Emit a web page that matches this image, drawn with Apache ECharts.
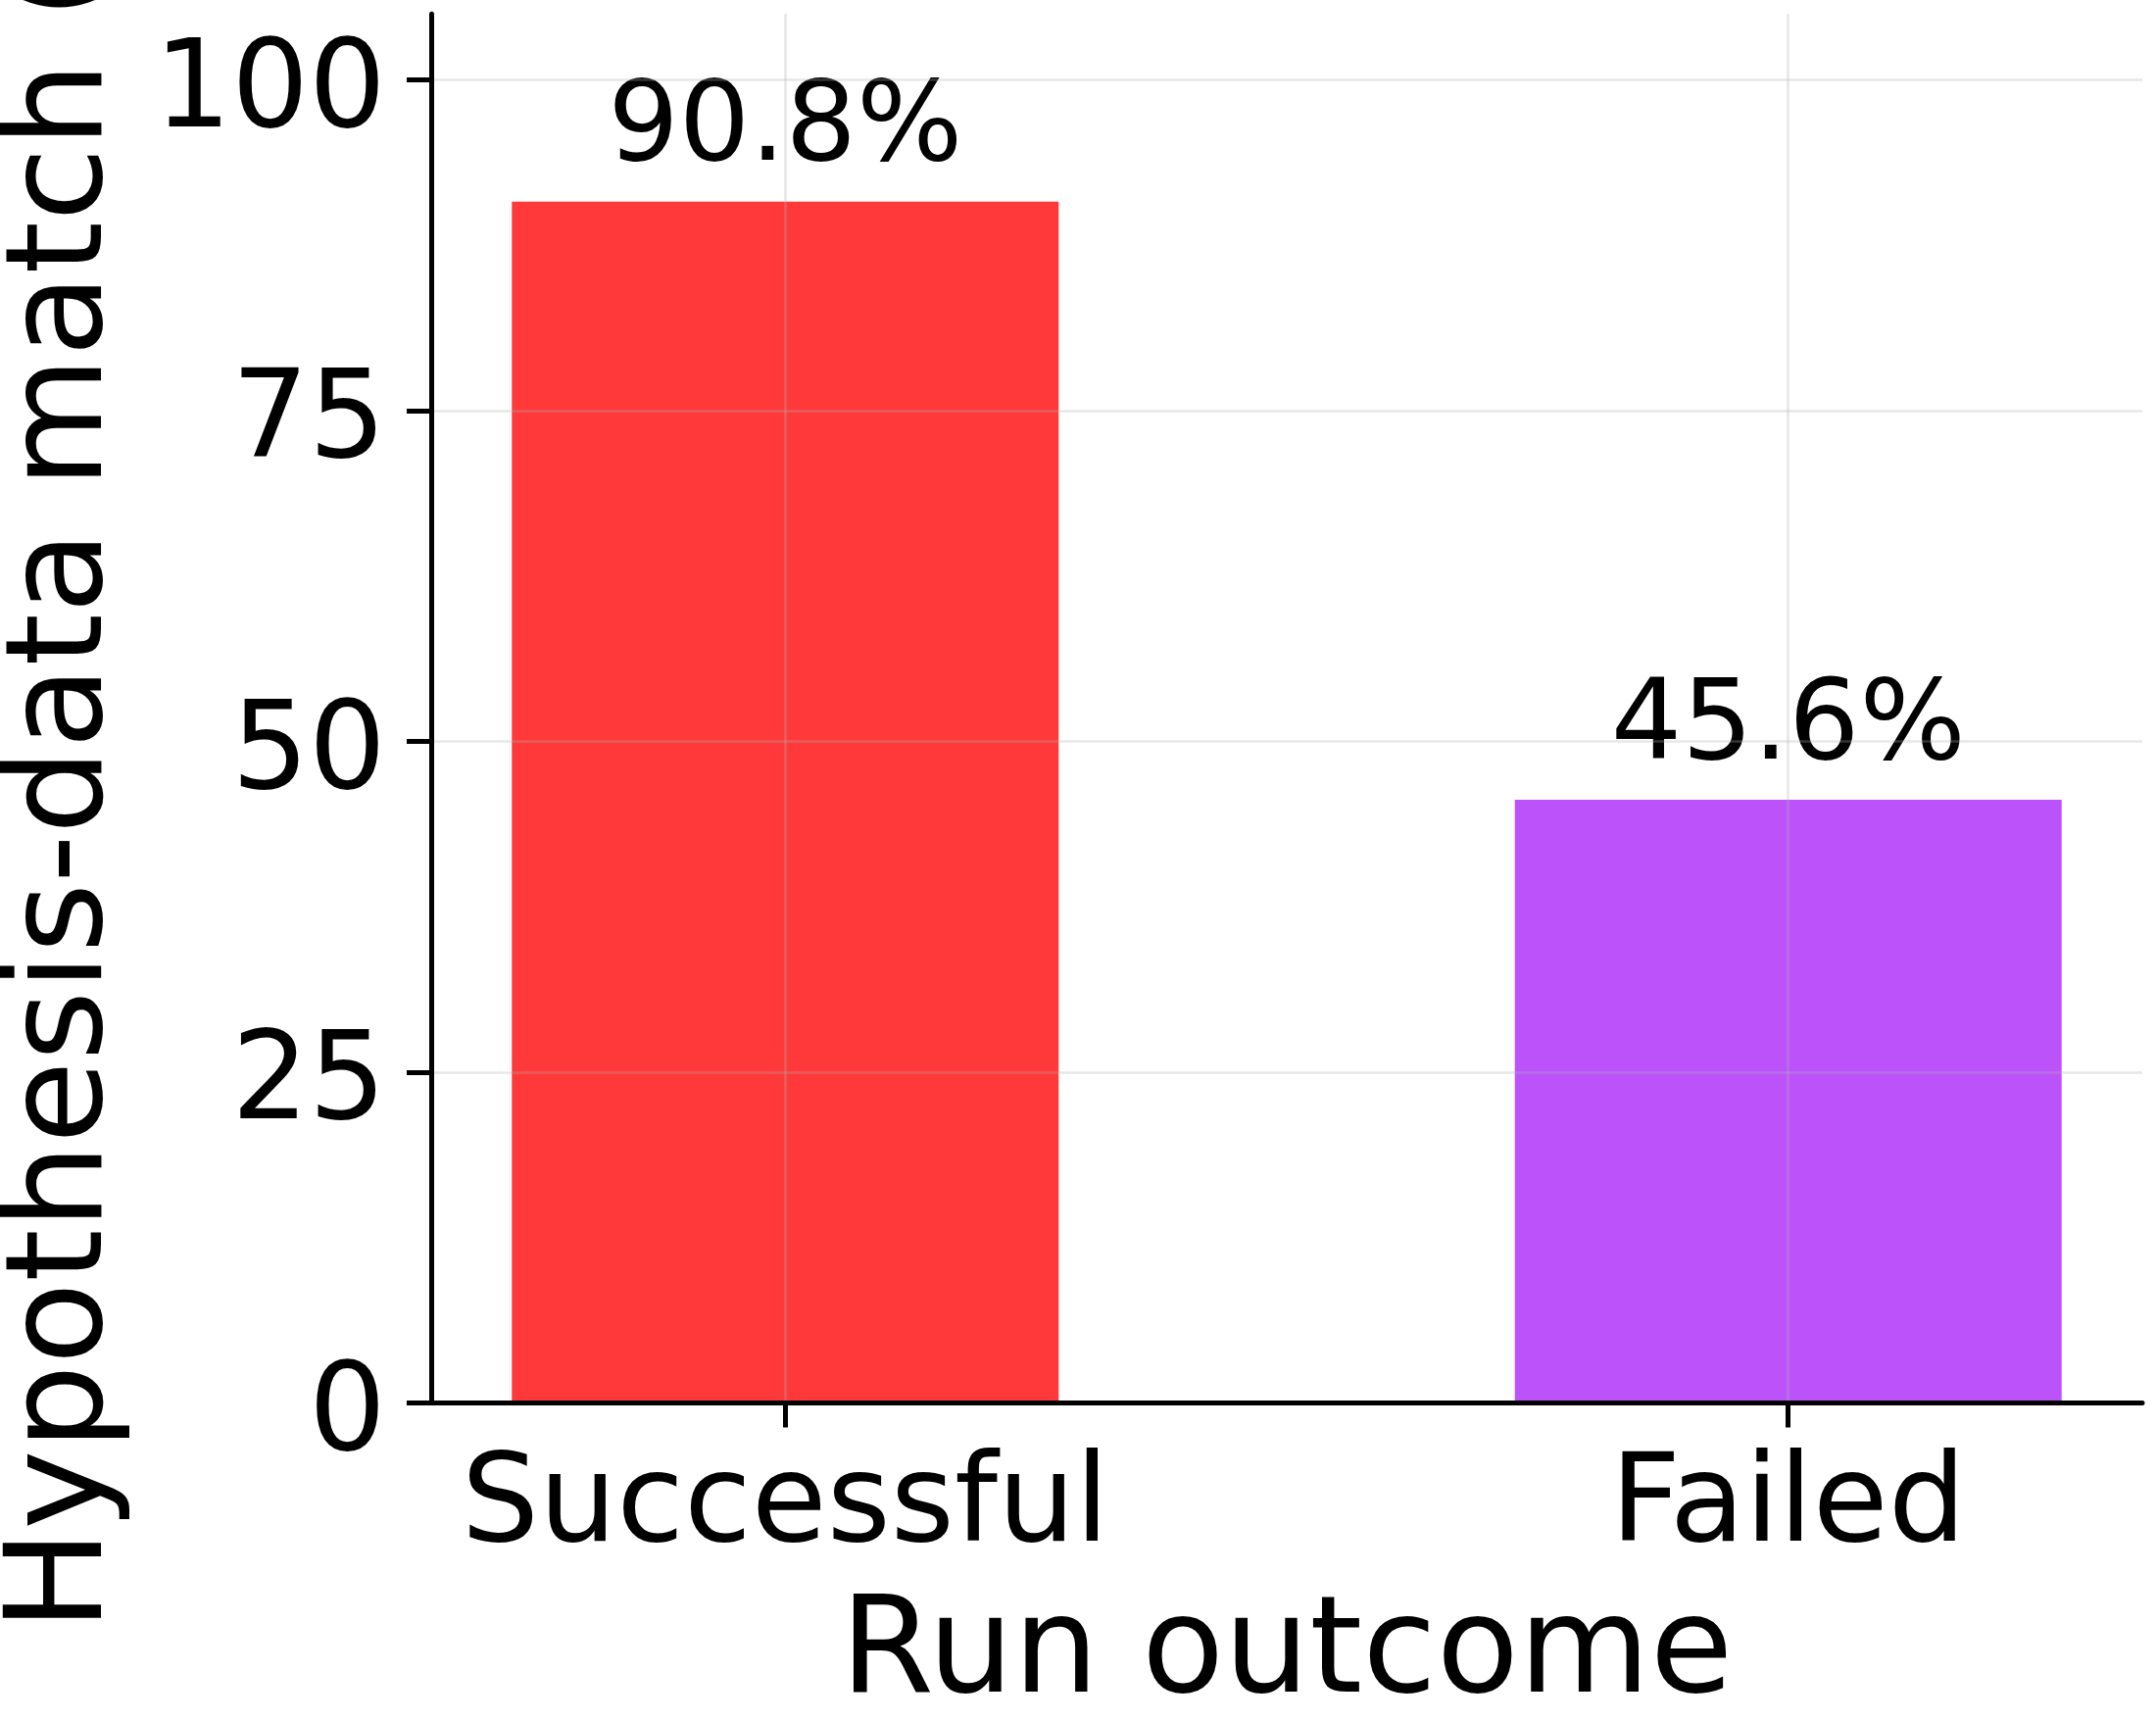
<!DOCTYPE html>
<html>
<head>
<meta charset="utf-8">
<script src="https://cdn.jsdelivr.net/npm/echarts@6/dist/echarts.min.js"></script>
<style>
  html, body { margin: 0; padding: 0; background: #ffffff; }
  #chart { width: 2200px; height: 1756px; }
</style>
</head>
<body>
<div id="chart"></div>
<script>
const categories = ['Successful', 'Failed'];
const matchRates = [90.8, 45.6];
const barColors = ['#ff3939', '#bc53fa'];
const yTicks = [0, 25, 50, 75, 100];
const xAxisTitle = 'Run outcome';
const yAxisTitle = 'Hypothesis-data match (%)';

const FONT = 'DejaVu Sans';
const gridColor = 'rgba(176,176,176,0.3)';

const chart = echarts.init(document.getElementById('chart'), null, { renderer: 'canvas' });

const seriesData = categories.map((c, i) => ({
  value: [i, matchRates[i]],
  itemStyle: { color: barColors[i] }
}));

chart.setOption({
  animation: false,
  backgroundColor: '#ffffff',
  grid: { left: 440, right: 14, top: 14.2, bottom: 324.5, containLabel: false, outerBoundsMode: 'none' },
  xAxis: {
    type: 'value',
    min: -0.353,
    max: 1.353,
    z: 3,
    name: xAxisTitle,
    nameLocation: 'middle',
    nameGap: 190,
    nameTextStyle: { fontFamily: FONT, fontSize: 137.5, color: '#000' },
    axisLine: { show: true, onZero: false, lineStyle: { color: '#000', width: 5 } },
    axisTick: { show: true, inside: false, length: 25, lineStyle: { color: '#000', width: 5 }, customValues: [0, 1] },
    axisLabel: {
      show: true, margin: 46, fontFamily: FONT, fontSize: 125, color: '#000',
      customValues: [0, 1],
      formatter: v => categories[Math.round(v)] || ''
    },
    splitLine: { show: true, lineStyle: { color: gridColor, width: 2.7 } }
  },
  yAxis: {
    type: 'value',
    min: 0,
    max: 105,
    z: 3,
    name: yAxisTitle,
    nameLocation: 'middle',
    nameRotate: 90,
    nameGap: 304,
    nameTextStyle: { fontFamily: FONT, fontSize: 137.5, color: '#000' },
    axisLine: { show: true, onZero: false, lineStyle: { color: '#000', width: 5 } },
    axisTick: { show: true, inside: false, length: 25, lineStyle: { color: '#000', width: 5 }, customValues: yTicks },
    axisLabel: {
      show: true, margin: 46, fontFamily: FONT, fontSize: 124, color: '#000',
      customValues: yTicks, verticalAlign: 'top', lineHeight: 30
    },
    splitLine: { show: true, lineStyle: { color: gridColor, width: 2.7 } }
  },
  series: [{
    type: 'bar',
    z: 2,
    barWidth: 558,
    data: seriesData,
    label: {
      show: true,
      position: 'top',
      distance: 15,
      fontFamily: FONT,
      fontSize: 114,
      color: '#000',
      formatter: p => p.value[1].toFixed(1) + '%'
    }
  }]
});
</script>
</body>
</html>
